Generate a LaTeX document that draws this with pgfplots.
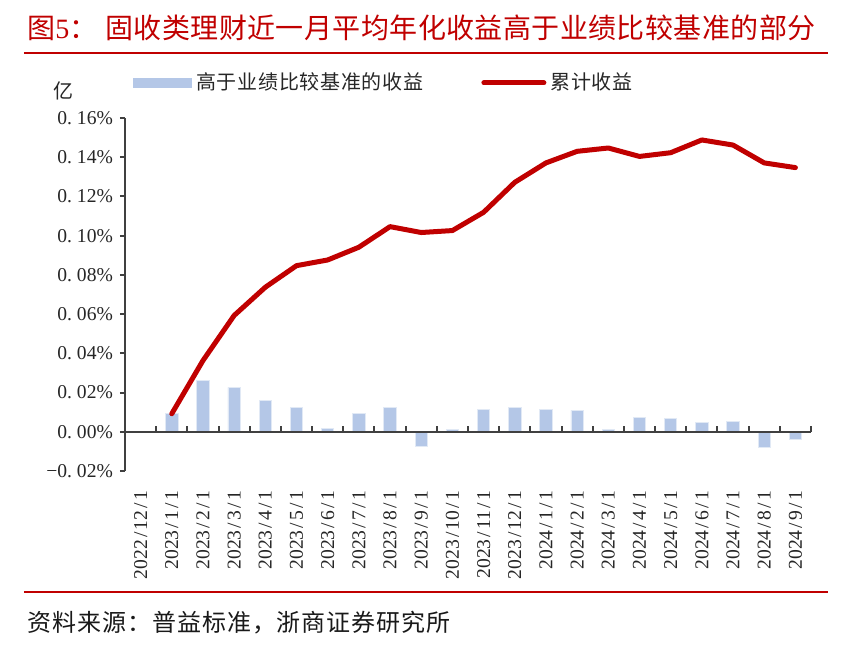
\documentclass[border=0pt]{standalone}
\usepackage{fontspec}
\usepackage{pgfplots}
\usepackage{pgfplotstable}
\pgfplotsset{compat=1.18}
\setmainfont{Liberation Serif}
\newfontfamily\cjkT[LetterSpace=1.5]{Noto Sans CJK SC}
\newfontfamily\cjkL[LetterSpace=3.6]{Noto Sans CJK SC}
\newfontfamily\cjkS[LetterSpace=4]{Noto Sans CJK SC}
\definecolor{barblue}{HTML}{B4C7E7}
\definecolor{linered}{HTML}{C00000}
\definecolor{axgray}{HTML}{404040}
\definecolor{titlered}{HTML}{C00000}
\newcommand\pd{\makebox[0.5em][l]{.}}
\newcommand\ssl{\makebox[0.5em]{/}}

\pgfplotstableread{
x y
1 0.0092
2 0.0260
3 0.0226
4 0.0158
5 0.0125
6 0.0015
7 0.0093
8 0.0124
9 -0.0076
10 0.0012
11 0.0112
12 0.0124
13 0.0115
14 0.0109
15 0.0010
16 0.0073
17 0.0066
18 0.0049
19 0.0051
20 -0.0082
21 -0.0039
}\bartable

\pgfplotstableread{
x y
1 0.0092
2 0.0363
3 0.0593
4 0.0737
5 0.0847
6 0.0876
7 0.0941
8 0.1046
9 0.1016
10 0.1026
11 0.1119
12 0.1272
13 0.1371
14 0.1430
15 0.1447
16 0.1404
17 0.1423
18 0.1488
19 0.1462
20 0.1371
21 0.1347
}\linetable

\begin{document}
\begin{tikzpicture}
\begin{axis}[
  scale only axis, width=343pt, height=176.5pt,
  xmin=-0.5, xmax=21.5, ymin=-0.02, ymax=0.16,
  axis y line*=left, axis x line*=bottom,
  x axis line style={draw=none},
  y axis line style={axgray, line width=1pt},
  xtick={0,...,21},
  xticklabels={2022\ssl12\ssl1,2023\ssl1\ssl1,2023\ssl2\ssl1,2023\ssl3\ssl1,2023\ssl4\ssl1,2023\ssl5\ssl1,2023\ssl6\ssl1,2023\ssl7\ssl1,2023\ssl8\ssl1,2023\ssl9\ssl1,2023\ssl10\ssl1,2023\ssl11\ssl1,2023\ssl12\ssl1,2024\ssl1\ssl1,2024\ssl2\ssl1,2024\ssl3\ssl1,2024\ssl4\ssl1,2024\ssl5\ssl1,2024\ssl6\ssl1,2024\ssl7\ssl1,2024\ssl8\ssl1,2024\ssl9\ssl1},
  xtick style={draw=none},
  ytick={-0.02,0,0.02,0.04,0.06,0.08,0.10,0.12,0.14,0.16},
  yticklabels={−0\pd02\%,0\pd00\%,0\pd02\%,0\pd04\%,0\pd06\%,0\pd08\%,0\pd10\%,0\pd12\%,0\pd14\%,0\pd16\%},
  ytick style={axgray, line width=1pt},
  tick align=outside, major tick length=2.5pt,
  tick label style={font=\fontsize{9.8}{10}\selectfont, text=black!85},
  xticklabel style={yshift=-4pt, rotate=90, anchor=east},
  clip=false,
  legend columns=2,
  legend style={at={(0,1)}, anchor=west, xshift=4pt, yshift=17.5pt, draw=none, fill=none,
    inner sep=0pt, font=\cjkL\fontsize{10}{12}\selectfont, text=black!85,
    /tikz/every even column/.append style={column sep=27pt}},
]
\addplot[ybar, bar width=6.2pt, fill=barblue, draw=barblue!40!white, line width=0.4pt,
  legend image code/.code={\fill[barblue] (0pt,-2.25pt) rectangle (29pt,2.25pt);}]
  table[x=x,y=y] {\bartable};
\addlegendentry{高于业绩比较基准的收益}
\draw[axgray, line width=1pt] (axis cs:-0.5,0) -- (axis cs:21.5,0);
\pgfplotsinvokeforeach{0,...,21}{\draw[axgray, line width=1pt] (axis cs:#1.5,0) -- ([yshift=3pt]axis cs:#1.5,0);}
\addplot[linered, line width=2.5pt, line join=round, line cap=round,
  legend image code/.code={\draw[linered, line width=2.5pt, line cap=round] (0pt,0pt) -- (30pt,0pt);}]
  table[x=x,y=y] {\linetable};
\addlegendentry{累计收益}
\end{axis}
\coordinate (O) at (current axis.south west);
\node[anchor=west, inner sep=0pt, text=titlered, font=\cjkT\fontsize{14}{16}\selectfont] at ([shift={(-49pt,221.5pt)}]O) {图{\rmfamily 5}：};
\node[anchor=west, inner sep=0pt, text=titlered, font=\cjkT\fontsize{14}{16}\selectfont] at ([shift={(-10pt,221.5pt)}]O) {固收类理财近一月平均年化收益高于业绩比较基准的部分};
\draw[titlered, line width=1pt] ([shift={(-50.5pt,209pt)}]O) -- ([shift={(351.5pt,209pt)}]O);
\draw[titlered, line width=1pt] ([shift={(-50.5pt,-60.5pt)}]O) -- ([shift={(351.5pt,-60.5pt)}]O);
\node[anchor=west, inner sep=0pt, font=\cjkS\fontsize{12}{14}\selectfont, text=black!90] at ([shift={(-49pt,-76pt)}]O) {资料来源：普益标准，浙商证券研究所};
\node[inner sep=0pt, font=\cjkL\fontsize{10}{12}\selectfont, text=black!85] at ([shift={(-30.5pt,190pt)}]O) {亿};
\pgfresetboundingbox
\path ([shift={(-62.5pt,-90pt)}]O) rectangle ([shift={(359pt,235.5pt)}]O);
\end{tikzpicture}
\end{document}
